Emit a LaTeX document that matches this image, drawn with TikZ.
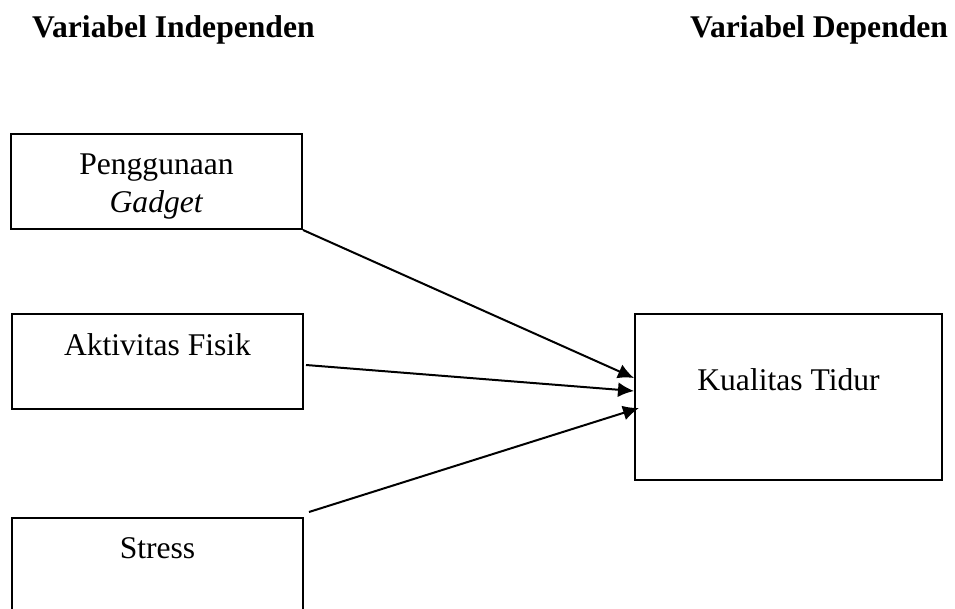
\documentclass[tikz,border=0pt]{standalone}
\usepackage{fontspec}
\setmainfont{Liberation Serif}
\usepackage{tikz}
\usetikzlibrary{arrows.meta}
\usetikzlibrary{shapes}

\begin{document}
\begin{tikzpicture}[x=1pt,y=-1pt,font=\fontsize{31.6pt}{38pt}\selectfont]
        \tikzset{var/.style = {shape=rectangle,draw,line width=2pt,inner sep=0pt,minimum width=291pt,minimum height=95pt,align=center}}
        \tikzset{head/.style = {anchor=base west,inner sep=0pt,font=\fontsize{31.6pt}{37pt}\selectfont\bfseries}}
        \tikzset{edge/.style = {-{Latex[length=16pt,width=15pt]},line width=2pt}}
        \path[use as bounding box,clip] (0,0) rectangle (955,609);
        % headings
        \node[head] (indep) at (32,38) {Variabel Independen};
        \node[head] (dep) at (690,38) {Variabel Dependen};
        % vertices
        \node[var] (penggunaan) at (156.5,181.5) {\rule{0pt}{30pt}Penggunaan\\\textit{Gadget}};
        \node[var,text height=41pt,text depth=54pt] (aktivitas) at (157.5,361.5) {Aktivitas Fisik};
        \node[var,text height=40pt,text depth=55pt] (stress) at (157.5,565.5) {Stress};
        \node[var,minimum width=307pt,text height=76pt,text depth=90pt] (kualitas) at (788.5,397) {Kualitas Tidur};
        \coordinate (in1) at ([yshift=19pt]kualitas.west);
        \coordinate (in2) at ([yshift=6pt]kualitas.west);
        \coordinate (in3) at ([xshift=5pt,yshift=-11pt]kualitas.west);
        %edges
        \draw[edge] (penggunaan.south east) to (in1);
        \draw[edge] ([xshift=2pt,yshift=-3.5pt]aktivitas.east) to (in2);
        \draw[edge] ([xshift=5pt,yshift=5pt]stress.north east) to (in3);
    \end{tikzpicture}
\end{document}
